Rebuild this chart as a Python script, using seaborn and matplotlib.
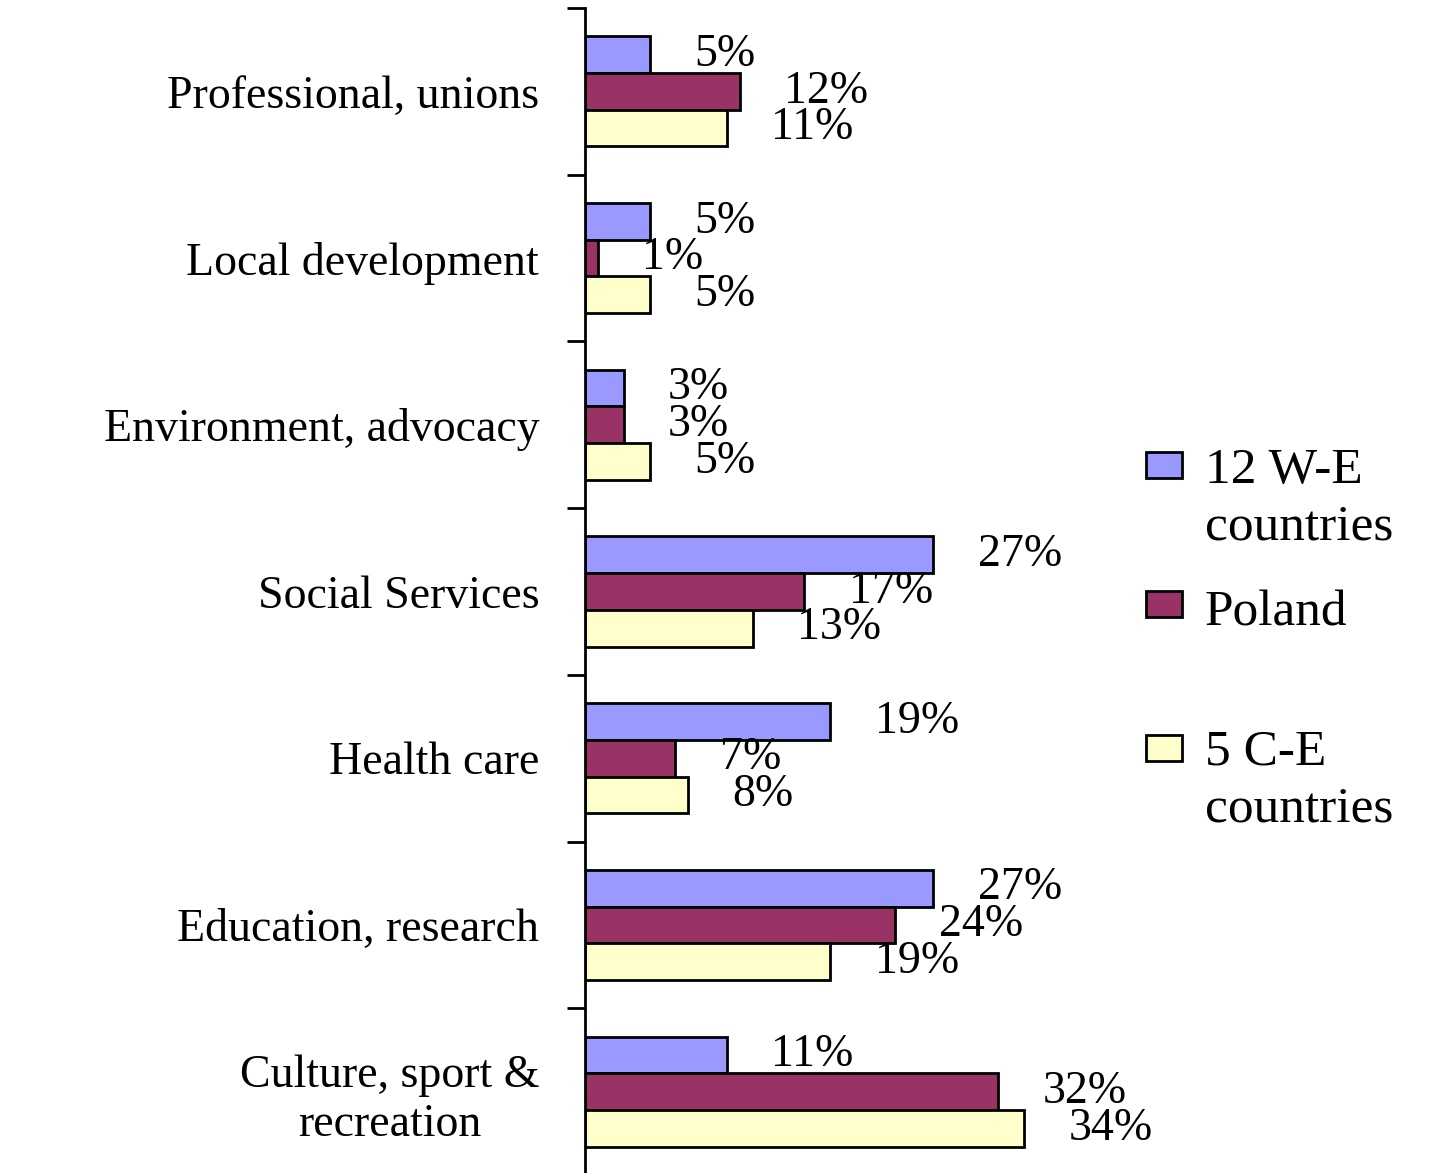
import matplotlib
matplotlib.use("Agg")
import matplotlib.pyplot as plt
from matplotlib.patches import Rectangle
import seaborn as sns
import pandas as pd

categories = ["Professional, unions", "Local development", "Environment, advocacy",
              "Social Services", "Health care", "Education, research",
              "Culture, sport &\nrecreation"]
series_names = ["12 W-E\ncountries", "Poland", "5 C-E\ncountries"]
we_values = [5, 5, 3, 27, 19, 27, 11]
poland_values = [12, 1, 3, 17, 7, 24, 32]
ce_values = [11, 5, 5, 13, 8, 19, 34]
colors = ["#9999FF", "#993366", "#FFFFCC"]

sns.set_style("white")
plt.rcParams['font.family'] = ['Liberation Serif', 'DejaVu Serif']
plt.rcParams['text.color'] = 'black'
plt.rcParams['ytick.color'] = 'black'
plt.rcParams['xtick.color'] = 'black'
plt.rcParams['axes.labelcolor'] = 'black'

rows = []
for name, vals in zip(series_names, [we_values, poland_values, ce_values]):
    for c, v in zip(categories, vals):
        rows.append({"category": c, "series": name, "value": v})
df = pd.DataFrame(rows)

W, H = 1456, 1173
fig = plt.figure(figsize=(W / 100, H / 100), dpi=100)
ax = fig.add_axes([585 / W, -0.0017, 542 / W, 1167 / H])

sns.barplot(data=df, y="category", x="value", hue="series", order=categories,
            hue_order=series_names, palette=colors, width=0.66, orient="h",
            edgecolor="black", linewidth=2.0, saturation=1, legend=False, ax=ax,
            errorbar=None)

ax.set_xlim(0, 42)
ax.set_ylim(6.5, -0.5)
ax.set_xlabel("")
ax.set_ylabel("")
for s in ["top", "right", "bottom"]:
    ax.spines[s].set_visible(False)
ax.spines["left"].set_linewidth(2.0)
ax.spines["left"].set_color("black")
ax.set_xticks([])

ax.set_yticks(range(len(categories)))
ax.set_yticklabels(categories, fontsize=33, color="black")
ax.tick_params(axis="y", which="major", left=True, length=0, pad=33)
ax.set_yticks([i - 0.5 for i in range(len(categories) + 1)], minor=True)
ax.tick_params(axis="y", which="minor", left=True, length=13, width=2.0,
               direction="out", color="black")
for lab in ax.get_yticklabels():
    lab.set_multialignment("center")

for cont in ax.containers:
    ax.bar_label(cont, fmt="%g%%", padding=32, fontsize=33, color="black")

# legend (manual)
leg_y = [465, 604, 748]
leg_base = [540, 625, 822]
for color, name, yc, yb in zip(colors, series_names, leg_y, leg_base):
    fig.add_artist(Rectangle((1146 / W, 1 - (yc + 13) / H), 36 / W, 26 / H,
                             transform=fig.transFigure, facecolor=color,
                             edgecolor="black", linewidth=2.0))
    fig.text(1205 / W, 1 - yb / H, name, fontsize=37, va="baseline", ha="left",
             linespacing=1.3, color="black")

fig.savefig("out.png", dpi=100)
